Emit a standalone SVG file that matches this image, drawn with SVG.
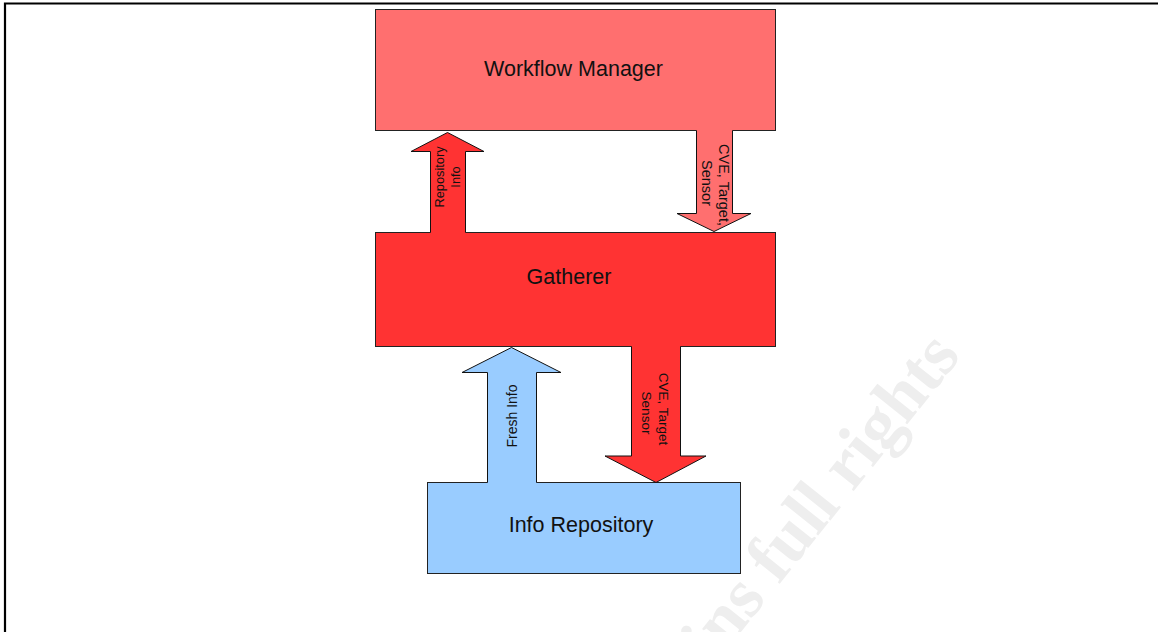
<svg xmlns="http://www.w3.org/2000/svg" width="1159" height="632" viewBox="0 0 1159 632">
<style>
.box{stroke:#222;stroke-width:1}
.lbl{font-family:"Liberation Sans",Arial,sans-serif;font-size:21.5px;fill:#111;text-anchor:middle}
.sm{font-family:"Liberation Sans",Arial,sans-serif;fill:#111;text-anchor:middle}
.out{fill:none;stroke:#111;stroke-width:1;stroke-linejoin:miter}
.wm{font-family:"Liberation Serif","Times New Roman",serif;font-weight:bold;font-size:70px;fill:#eeeeee}
</style>
<rect x="0" y="0" width="1159" height="632" fill="#fff"/>
<text class="wm" transform="translate(962,356) rotate(-51.3)" text-anchor="end">ins full rights</text>
<path d="M5,632 V3.5 H1158" fill="none" stroke="#000" stroke-width="2.2"/>
<g id="workflow-manager">
<rect class="box" x="375.5" y="9.5" width="400" height="121" fill="#ff6f6f"/>
<text class="lbl" x="573.5" y="76">Workflow Manager</text>
</g>
<g id="gatherer">
<rect class="box" x="375.5" y="232.5" width="400" height="114" fill="#ff3333"/>
<text class="lbl" x="569" y="284">Gatherer</text>
</g>
<g id="info-repository">
<rect class="box" x="427.5" y="482.5" width="313" height="91" fill="#99ccff"/>
<text class="lbl" x="581" y="532">Info Repository</text>
</g>
<g id="connectors">
<g id="arrow-repository-info">
<path d="M430.5,233 V151.5 H411 L447.5,132.5 L484,151.5 H465.5 V233 Z" fill="#ff3333"/>
<path class="out" d="M430.5,232.5 V151.5 H411 L447.5,132.5 L484,151.5 H465.5 V232.5"/>
<text class="sm" font-size="12.8" transform="translate(444,177) rotate(-90)">Repository</text>
<text class="sm" font-size="12.8" transform="translate(460,177) rotate(-90)">Info</text>
</g>
<g id="arrow-cve-upper">
<path d="M696.5,130 V213.5 H677 L714,231.5 L751,213.5 H732.5 V130 Z" fill="#ff6f6f"/>
<path class="out" d="M696.5,130.5 V213.5 H677 L714,231.5 L751,213.5 H732.5 V130.5"/>
<text class="sm" font-size="14.5" transform="translate(718.5,185) rotate(90)">CVE, Target,</text>
<text class="sm" font-size="14.5" transform="translate(701.5,183) rotate(90)">Sensor</text>
</g>
<g id="arrow-fresh-info">
<path d="M487.5,483 V372.5 H462 L511.5,347.5 L561,372.5 H536.5 V483 Z" fill="#99ccff"/>
<path class="out" d="M487.5,482.5 V372.5 H462 L511.5,347.5 L561,372.5 H536.5 V482.5"/>
<text class="sm" font-size="14" transform="translate(516.5,416) rotate(-90)">Fresh Info</text>
</g>
<g id="arrow-cve-lower">
<path d="M631.5,346 V456 H605 L656,482.5 L706,456 H680.5 V346 Z" fill="#ff3333"/>
<path class="out" d="M631.5,346.5 V456 H605 L656,482.5 L706,456 H680.5 V346.5"/>
<text class="sm" font-size="13.5" transform="translate(658.5,409) rotate(90)">CVE, Target</text>
<text class="sm" font-size="13.5" transform="translate(641.7,413) rotate(90)">Sensor</text>
</g>
</g>
</svg>
